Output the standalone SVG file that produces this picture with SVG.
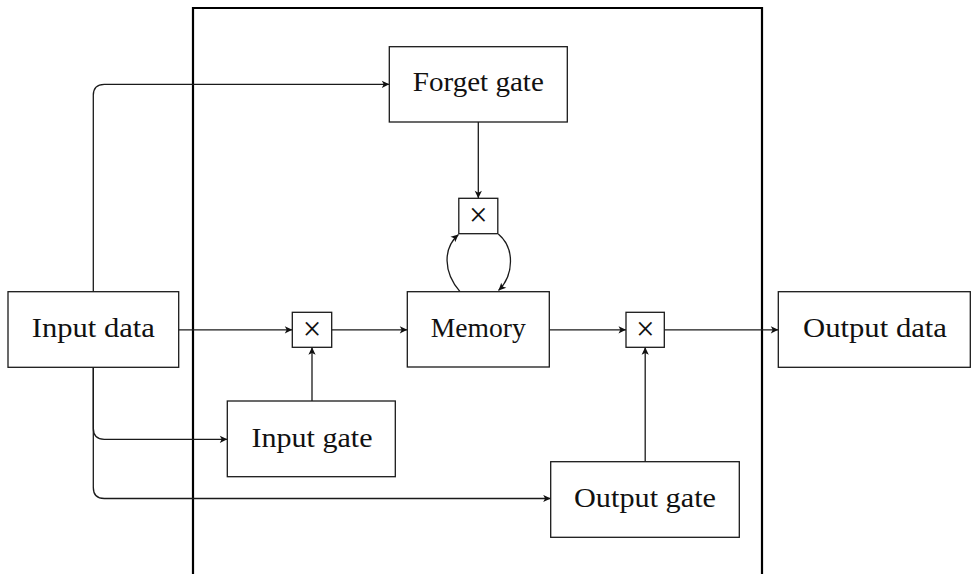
<svg xmlns="http://www.w3.org/2000/svg" width="972" height="574" viewBox="0 0 972 574">
  <style>
    .box { fill: #fff; stroke: #1a1a1a; stroke-width: 1.3; }
    .frame { fill: none; stroke: #000; stroke-width: 2.2; }
    .wire { fill: none; stroke: #1a1a1a; stroke-width: 1.3; marker-end: url(#arr); }
    .lbl { font-family: "Liberation Serif", "Times New Roman", serif; font-size: 27px; fill: #111; text-anchor: middle; }
    .op { font-family: "Liberation Serif", "Times New Roman", serif; font-size: 33px; fill: #111; text-anchor: middle; }
  </style>
  <defs>
    <marker id="arr" viewBox="-8 -4 9 8" refX="0" refY="0" markerWidth="9" markerHeight="8" markerUnits="userSpaceOnUse" orient="auto">
      <path d="M0,0 L-7.5,-3.6 L-5.6,0 L-7.5,3.6 Z" fill="#111"/>
    </marker>
  </defs>
  <rect width="972" height="574" fill="#fff"/>

  <!-- cell boundary, open at the bottom -->
  <path class="frame" d="M193 576 V8 H762 V576"/>

  <g id="connectors">
    <!-- input fan-out with rounded corners -->
    <path class="wire" d="M93.3 291.7 V95.3 Q93.3 84.3 104.3 84.3 H389.3"/>
    <path class="wire" d="M93.3 367.3 V428.3 Q93.3 439.3 104.3 439.3 H227.3"/>
    <path class="wire" d="M93.3 367.3 V487.5 Q93.3 498.5 104.3 498.5 H550.7"/>
    <!-- main data path -->
    <path class="wire" d="M178.7 329.8 H292.3"/>
    <path class="wire" d="M331.7 329.8 H407.3"/>
    <path class="wire" d="M549.3 329.8 H626"/>
    <path class="wire" d="M664.3 329.8 H778.3"/>
    <!-- gates into multipliers -->
    <path class="wire" d="M312 401 V347.3"/>
    <path class="wire" d="M478.3 122 V198.3"/>
    <path class="wire" d="M645.2 461.7 V347.3"/>
    <!-- memory self loop -->
    <path class="wire" d="M460 291.7 C443 272 443 248 458.5 234.5"/>
    <path class="wire" d="M498.3 234 C515 248 514 275 498.5 290.5"/>
  </g>

  <g id="input-data">
    <rect class="box" x="8" y="291.7" width="170.7" height="75.6"/>
    <text class="lbl" x="93.3" y="336.7" textLength="123" lengthAdjust="spacingAndGlyphs">Input data</text>
  </g>
  <g id="forget-gate">
    <rect class="box" x="389.3" y="46.7" width="178" height="75.3"/>
    <text class="lbl" x="478.3" y="91" textLength="131" lengthAdjust="spacingAndGlyphs">Forget gate</text>
  </g>
  <g id="forget-mult">
    <rect class="box" x="458.8" y="198.3" width="39" height="35.4"/>
    <text class="op" x="478.3" y="225.5">×</text>
  </g>
  <g id="memory">
    <rect class="box" x="407.3" y="291.7" width="142" height="75.3"/>
    <text class="lbl" x="478.3" y="336.7" textLength="95" lengthAdjust="spacingAndGlyphs">Memory</text>
  </g>
  <g id="input-mult">
    <rect class="box" x="292.3" y="312.3" width="39.4" height="35"/>
    <text class="op" x="312" y="339.5">×</text>
  </g>
  <g id="output-mult">
    <rect class="box" x="626" y="312.3" width="38.3" height="35"/>
    <text class="op" x="645.2" y="339.5">×</text>
  </g>
  <g id="output-data">
    <rect class="box" x="778.3" y="291.7" width="192" height="75.6"/>
    <text class="lbl" x="875" y="336.7" textLength="144" lengthAdjust="spacingAndGlyphs">Output data</text>
  </g>
  <g id="input-gate">
    <rect class="box" x="227.3" y="401" width="168" height="75.7"/>
    <text class="lbl" x="312" y="446.7" textLength="121" lengthAdjust="spacingAndGlyphs">Input gate</text>
  </g>
  <g id="output-gate">
    <rect class="box" x="550.7" y="461.7" width="188.6" height="75.6"/>
    <text class="lbl" x="645" y="507" textLength="142" lengthAdjust="spacingAndGlyphs">Output gate</text>
  </g>
</svg>
